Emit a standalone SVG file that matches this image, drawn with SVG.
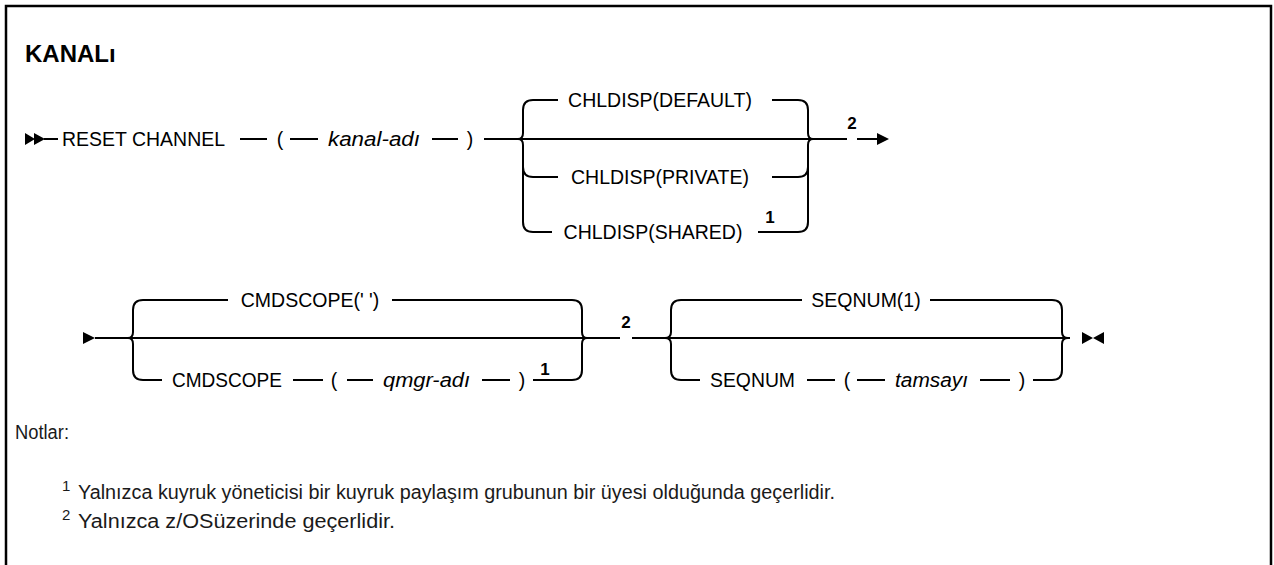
<svg xmlns="http://www.w3.org/2000/svg" width="1274" height="565" viewBox="0 0 1274 565">
<style>
.t{font-family:"Liberation Sans",Arial,sans-serif;font-size:19.5px;fill:#000}
.i{font-style:italic}
.c{text-anchor:middle}
.n{font-family:"Liberation Sans",Arial,sans-serif;font-size:17px;font-weight:bold;fill:#000;text-anchor:middle}
.note{font-family:"Liberation Sans",Arial,sans-serif;font-size:20px;fill:#1a1a1a}
.sup{font-family:"Liberation Sans",Arial,sans-serif;font-size:15px;fill:#1a1a1a}
.ln{fill:none;stroke:#000;stroke-width:2}
.ah{fill:#000;stroke:none}
</style>
<rect width="1274" height="565" fill="#fff"/>
<path d="M6,570 V6 H1271 V570" fill="none" stroke="#000" stroke-width="2.5"/>
<text x="25" y="62" font-family="'Liberation Sans',Arial,sans-serif" font-size="24" font-weight="bold">KANALı</text>

<g id="connectors">
  <!-- row 1 -->
  <path class="ah" d="M25,133 L35,139 L25,145 Z M34,133 L45,139 L34,145 Z"/>
  <path class="ln" d="M44,139 H58"/>
  <path class="ln" d="M240,139 H267 M290,139 H318 M432,139 H458 M484,139 H817"/>
  <!-- choice 1 left brace -->
  <path class="ln" d="M518,139 q5,0 5,-6 V110 q0,-10 10,-10 H558"/>
  <path class="ln" d="M518,139 q5,0 5,6 V167 q0,10 10,10 H558"/>
  <path class="ln" d="M523,167 V222 q0,10 10,10 H552"/>
  <!-- choice 1 right brace -->
  <path class="ln" d="M772,100 H798 q10,0 10,10 V133 q0,6 5,6"/>
  <path class="ln" d="M772,177 H798 q10,0 10,-10 V145 q0,-6 5,-6"/>
  <path class="ln" d="M758,232 H798 q10,0 10,-10 V167"/>
  <path class="ln" d="M817,139 H847 M857,139 H877"/>
  <path class="ah" d="M877,133 L889,139 L877,145 Z"/>

  <!-- row 2 -->
  <path class="ah" d="M83,332 L95,338 L83,344 Z"/>
  <path class="ln" d="M95,338 H590"/>
  <path class="ln" d="M128,338 q5,0 5,-6 V310 q0,-10 10,-10 H228"/>
  <path class="ln" d="M128,338 q5,0 5,6 V370 q0,10 10,10 H162"/>
  <path class="ln" d="M392,300 H572 q10,0 10,10 V332 q0,6 5,6"/>
  <path class="ln" d="M293,380 H323 M347,380 H373 M482,380 H510 M533,380 H572 q10,0 10,-10 V344 q0,-6 5,-6"/>
  <path class="ln" d="M590,338 H620 M632,338 H1070"/>
  <path class="ln" d="M665,338 q6,0 6,-6 V310 q0,-10 10,-10 H802"/>
  <path class="ln" d="M665,338 q6,0 6,6 V370 q0,10 10,10 H700"/>
  <path class="ln" d="M930,300 H1052 q10,0 10,10 V332 q0,6 6,6"/>
  <path class="ln" d="M807,380 H835 M857,380 H885 M980,380 H1010 M1033,380 H1052 q10,0 10,-10 V344 q0,-6 6,-6"/>
  <path class="ah" d="M1082,332 L1093,338 L1082,344 Z M1104,332 L1093,338 L1104,344 Z"/>
</g>

<g id="node-reset">
  <text class="t" x="62" y="146" textLength="163" lengthAdjust="spacingAndGlyphs">RESET CHANNEL</text>
  <text class="t c" x="280" y="146">(</text>
  <text class="t i" x="328" y="146" textLength="92" lengthAdjust="spacingAndGlyphs">kanal-adı</text>
  <text class="t c" x="470" y="146">)</text>
</g>
<g id="node-chldisp-default">
  <text class="t c" x="660" y="107">CHLDISP(DEFAULT)</text>
</g>
<g id="node-chldisp-private">
  <text class="t c" x="660" y="184">CHLDISP(PRIVATE)</text>
</g>
<g id="node-chldisp-shared">
  <text class="t c" x="653" y="239">CHLDISP(SHARED)</text>
  <text class="n" x="770" y="223">1</text>
</g>
<g id="note-ref-2a">
  <text class="n" x="852" y="129">2</text>
</g>
<g id="node-cmdscope-default">
  <text class="t c" x="310" y="307">CMDSCOPE(' ')</text>
</g>
<g id="node-cmdscope-qmgr">
  <text class="t" x="172" y="387" textLength="110" lengthAdjust="spacingAndGlyphs">CMDSCOPE</text>
  <text class="t c" x="334" y="387">(</text>
  <text class="t i" x="383" y="387" textLength="87" lengthAdjust="spacingAndGlyphs">qmgr-adı</text>
  <text class="t c" x="522" y="387">)</text>
  <text class="n" x="545" y="375">1</text>
</g>
<g id="note-ref-2b">
  <text class="n" x="626" y="328">2</text>
</g>
<g id="node-seqnum-default">
  <text class="t c" x="866" y="307">SEQNUM(1)</text>
</g>
<g id="node-seqnum-int">
  <text class="t" x="710" y="387" textLength="85" lengthAdjust="spacingAndGlyphs">SEQNUM</text>
  <text class="t c" x="847" y="387">(</text>
  <text class="t i" x="895" y="387" textLength="73" lengthAdjust="spacingAndGlyphs">tamsayı</text>
  <text class="t c" x="1022" y="387">)</text>
</g>

<g id="notes">
  <text class="note" x="15" y="439" textLength="54" lengthAdjust="spacingAndGlyphs">Notlar:</text>
  <text class="sup" x="62" y="491">1</text>
  <text class="note" x="78" y="499" textLength="757" lengthAdjust="spacingAndGlyphs">Yalnızca kuyruk yöneticisi bir kuyruk paylaşım grubunun bir üyesi olduğunda geçerlidir.</text>
  <text class="sup" x="62" y="520">2</text>
  <text class="note" x="78" y="528" textLength="317" lengthAdjust="spacingAndGlyphs">Yalnızca z/OSüzerinde geçerlidir.</text>
</g>
</svg>
